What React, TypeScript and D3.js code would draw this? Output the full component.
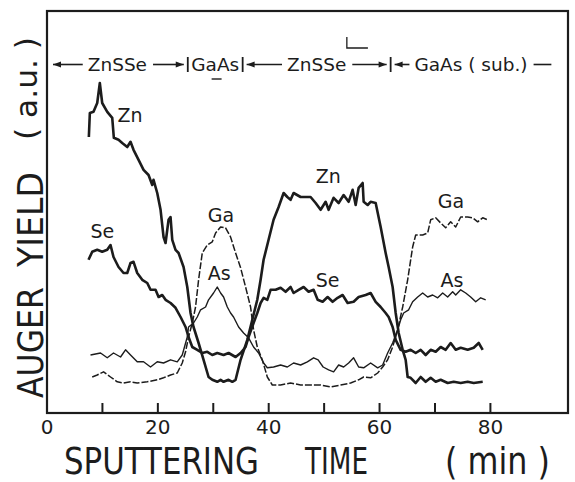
import React, { useEffect, useRef } from 'react';
import * as d3 from 'd3';

type Pt = [number, number];

// sputtering time (min), Auger yield (a.u.)
const zn: Pt[] = [
  [7.55, 69], [7.73, 75], [8.39, 75.3], [9.06, 77.5], [9.53, 82.5], [9.96, 77.5], [10.87, 75.3], [11.77, 73.8],
  [12.06, 68.8], [12.91, 68.3], [13.57, 67.5], [14.48, 66.5], [15.07, 67.8], [15.61, 65.8], [16.52, 63.3],
  [17.42, 60.8], [18.32, 59.5], [18.99, 57], [19.22, 58.3], [19.89, 55], [20.49, 50.8], [21.03, 44], [21.39, 42.5],
  [21.93, 48.3], [22.29, 49], [22.6, 43.3], [23.19, 40.8], [23.74, 40], [24.64, 36.5], [25.31, 31.5], [25.9, 25],
  [26.44, 21.5], [27.35, 17.5], [28.25, 13.3], [29.15, 9], [29.82, 8.3], [30.72, 7.8], [31.32, 8.3], [31.86, 7.8],
  [32.76, 8.3], [33.43, 7.8], [34.03, 8.3], [34.33, 10], [34.93, 13.3], [36.14, 18.3], [37.04, 23.3], [37.94, 28.3],
  [38.54, 33.3], [39.08, 38.3], [39.98, 43.3], [40.88, 48.3], [41.79, 51.5], [42.69, 55], [43.36, 54], [43.95, 53.3],
  [44.49, 55], [45.76, 54], [46.97, 54], [47.56, 54], [48.47, 52.5], [49.37, 50.8], [50.27, 52.8], [50.81, 50.8],
  [51.71, 53.8], [52.62, 52.5], [53.52, 54.5], [54.42, 52.8], [55.14, 55.8], [55.69, 52], [56.23, 56.3], [56.95, 57.5],
  [57.13, 52.8], [57.85, 52], [58.39, 52.8], [59.3, 52.5], [60.2, 46.5], [61.1, 40], [61.64, 36.5], [62.36, 31.5],
  [62.91, 25], [63.45, 20], [64.17, 15.8], [64.71, 13.3], [65.07, 9], [65.61, 8.8], [66.52, 7.5], [67.42, 9],
  [68.32, 7.8], [69.22, 8.8], [70.13, 7.8], [71.03, 8.3], [72.29, 7.5], [73.38, 7.8], [74.64, 7.5], [75.9, 7.8],
  [76.99, 7.5], [78.61, 7.8],
];

const se: Pt[] = [
  [7.49, 38.3], [8.16, 40.3], [9.06, 40.8], [9.96, 40.3], [10.87, 40.8], [11.46, 42], [12.0, 39], [12.91, 36.5],
  [13.81, 35], [14.48, 35], [15.07, 37.5], [15.61, 37.8], [16.28, 35], [17.18, 33.3], [18.09, 32.5], [18.68, 30.8],
  [19.58, 30.8], [20.13, 29], [20.79, 29.5], [21.39, 28.3], [22.29, 27.5], [23.19, 26.3], [24.1, 24], [25.0, 21.5],
  [25.54, 19], [26.21, 16.5], [27.11, 15.8], [28.01, 15], [28.92, 15.3], [29.82, 14.5], [30.72, 15], [31.86, 14.5],
  [32.76, 15], [34.03, 14], [34.93, 15], [35.83, 16.5], [36.37, 19], [37.27, 22.5], [37.94, 25], [38.54, 27.5],
  [39.08, 28.8], [39.75, 28.3], [40.34, 30.8], [41.25, 30.8], [42.15, 31.3], [43.05, 30.3], [43.95, 31.5], [44.49, 30],
  [45.4, 30.8], [46.3, 31.5], [47.2, 30.3], [48.1, 30.8], [48.83, 28.3], [49.73, 27.8], [50.63, 29], [51.53, 27.8],
  [52.44, 28.8], [53.34, 29.5], [54.24, 27.5], [55.32, 27.8], [56.23, 29], [57.49, 29.5], [58.39, 30], [59.3, 27.8],
  [60.2, 26.5], [61.1, 25], [61.64, 24], [62.36, 21.5], [62.91, 18.3], [63.81, 15.8], [64.71, 15.3], [65.61, 15.8],
  [66.52, 15], [67.42, 15.8], [68.32, 14.5], [69.22, 15.8], [70.13, 15.3], [71.03, 16.5], [71.93, 15.8], [72.83, 17.5],
  [73.74, 15.8], [74.64, 16.3], [75.9, 15.8], [76.99, 16.3], [77.89, 17.5], [78.61, 15.8],
];

const ga: Pt[] = [
  [8.16, 9], [9.06, 9.5], [10.2, 10.3], [11.46, 9], [12.67, 7.8], [13.81, 7.5], [15.07, 7.8], [16.28, 7.5],
  [18.09, 7.8], [19.89, 8.3], [21.03, 8.8], [22.29, 9.5], [23.5, 10], [24.4, 12.5], [25.0, 15.3], [25.54, 19],
  [26.21, 22.5], [26.8, 26.5], [27.35, 33.3], [28.01, 40], [28.92, 42], [29.82, 42.8], [30.42, 45], [31.32, 46.5],
  [32.22, 46.3], [33.12, 44], [34.03, 40], [34.93, 36.3], [35.83, 31.5], [36.73, 26.5], [37.27, 20.8], [37.94, 16.5],
  [38.84, 13.3], [39.75, 9], [40.65, 7], [42.15, 7], [43.95, 7.5], [45.76, 7], [47.56, 7], [49.37, 7], [51.17, 6.5],
  [52.98, 7], [54.78, 7.5], [56.23, 8.3], [57.13, 9], [58.39, 8.8], [59.66, 10], [60.56, 11.5], [61.46, 13.3],
  [62.36, 16.5], [63.27, 20.8], [64.17, 26.5], [65.07, 33.3], [65.97, 41.5], [66.52, 44.5], [67.78, 44.5],
  [68.68, 45], [69.22, 48.3], [70.13, 48.8], [71.03, 47.5], [71.93, 46.3], [72.83, 47.8], [73.74, 46.5], [74.64, 49],
  [75.9, 49], [76.81, 48.8], [77.71, 47.8], [78.61, 48.8], [79.51, 48.3],
];

const arsenic: Pt[] = [
  [7.85, 14.5], [9.66, 15], [10.87, 13.8], [12.0, 15], [13.27, 14], [14.17, 15.8], [15.07, 14.5], [16.28, 12.8],
  [17.42, 12.8], [18.68, 11.5], [19.89, 12.8], [21.03, 12.5], [22.29, 13.3], [23.5, 12.8], [24.4, 14.5], [25.31, 19],
  [25.54, 21.5], [26.44, 22.5], [27.11, 24], [27.71, 25.8], [28.61, 26.5], [29.15, 28.3], [30.05, 30], [30.72, 31.5],
  [31.32, 30], [31.86, 29], [32.53, 26.5], [33.12, 25], [33.66, 24], [34.57, 21.5], [35.47, 20], [36.37, 18.8],
  [37.27, 16.5], [38.18, 15], [39.08, 12.5], [39.75, 11.3], [40.88, 11.5], [42.15, 12], [43.36, 11.5], [44.49, 12.5],
  [45.76, 12], [46.97, 12.8], [48.1, 13.8], [48.92, 13.3], [49.82, 11.5], [50.81, 10.8], [51.71, 10.3], [52.62, 12],
  [53.52, 11.5], [54.42, 12.5], [55.32, 13.8], [56.23, 11.5], [57.13, 11.3], [58.39, 12.5], [59.66, 11.3], [60.56, 12],
  [61.46, 15], [62.36, 17.5], [63.27, 20.8], [63.81, 23.3], [64.35, 25], [65.25, 25.8], [65.97, 27.8], [66.88, 29],
  [67.78, 30], [68.68, 29], [69.58, 29.5], [70.49, 28.8], [71.39, 30], [72.29, 29], [73.19, 30.3], [73.74, 29.5],
  [74.64, 30.8], [75.54, 30], [76.44, 29], [77.35, 27.8], [78.25, 28.8], [79.15, 28.3],
];

const xTicks = [10, 20, 30, 40, 50, 60, 70, 80];
const xTickLabels = [0, 20, 40, 60, 80];

// layer structure written across the top
const layers = [
  { name: 'ZnSSe', from: 0, to: 25.4, arrows: true },
  { name: 'GaAs', from: 25.4, to: 35.3, arrows: false },
  { name: 'ZnSSe', from: 35.3, to: 62.0, arrows: true },
  { name: 'GaAs ( sub.)', from: 62.0, to: 91, arrows: true },
];

const curveLabels = [
  { text: 'Zn', t: 12.7, v: 72.8 },
  { text: 'Se', t: 7.85, v: 43.8 },
  { text: 'Ga', t: 29.0, v: 47.8 },
  { text: 'As', t: 29.0, v: 33.3 },
  { text: 'Zn', t: 48.5, v: 57.5 },
  { text: 'Se', t: 48.5, v: 31.5 },
  { text: 'Ga', t: 70.5, v: 51.3 },
  { text: 'As', t: 71.0, v: 31.5 },
];

const series = [
  { name: 'Zn', data: zn, width: 2.6, dash: null },
  { name: 'Se', data: se, width: 2.6, dash: null },
  { name: 'Ga', data: ga, width: 1.5, dash: '7,2' },
  { name: 'As', data: arsenic, width: 1.4, dash: null },
];

const INK = '#1c1c1c';
const FONT = '"DejaVu Sans", sans-serif';

const AugerProfile = () => {
  const svgRef = useRef<SVGSVGElement>(null);

  useEffect(() => {
    const svg = d3.select(svgRef.current);
    svg.selectAll('*').remove();

    const x = d3.scaleLinear().domain([0, 94]).range([47, 568]);
    const y = d3.scaleLinear().domain([0, 100.5]).range([413, 11]);

    svg.append('rect').attr('width', 575).attr('height', 482).attr('fill', '#fff');

    // frame
    svg
      .append('rect')
      .attr('x', x(0))
      .attr('y', y(100.5))
      .attr('width', x(94) - x(0))
      .attr('height', y(0) - y(100.5))
      .attr('fill', 'none')
      .attr('stroke', INK)
      .attr('stroke-width', 2.2);

    // inward ticks
    svg
      .selectAll('line.tick')
      .data(xTicks)
      .join('line')
      .attr('class', 'tick')
      .attr('x1', (d) => x(d))
      .attr('x2', (d) => x(d))
      .attr('y1', y(0))
      .attr('y2', y(0) - 10)
      .attr('stroke', INK)
      .attr('stroke-width', 2);

    svg
      .selectAll('text.tl')
      .data(xTickLabels)
      .join('text')
      .attr('class', 'tl')
      .attr('x', (d) => x(d))
      .attr('y', 434)
      .attr('text-anchor', 'middle')
      .attr('font-family', FONT)
      .attr('font-size', 20)
      .attr('fill', INK)
      .text((d) => d);

    // condensed lettering: draw at natural size, then squeeze horizontally
    const squeezed = (g: any, s: string, fs: number, w: number, place: (sx: number) => string) => {
      const t = g.append('text').attr('font-size', fs).text(s);
      const natural = (t.node() as SVGTextElement).getComputedTextLength();
      t.attr('transform', place(w / natural));
    };

    // axis titles
    const xt = svg.append('g').attr('font-family', FONT).attr('fill', INK);
    [
      { s: 'SPUTTERING', x0: 64, w: 195 },
      { s: 'TIME', x0: 305, w: 63 },
      { s: '( min )', x0: 445, w: 105 },
    ].forEach((p) => {
      squeezed(xt, p.s, 38, p.w, (sx) => `translate(${p.x0},474) scale(${sx},1)`);
    });

    const yt = svg.append('g').attr('font-family', FONT).attr('fill', INK);
    [
      { s: 'AUGER', y0: 398, w: 111, fs: 36, bx: 43 },
      { s: 'YIELD', y0: 267, w: 95, fs: 36, bx: 43 },
      { s: '( a.u. )', y0: 140, w: 103, fs: 30, bx: 37 },
    ].forEach((p) => {
      squeezed(yt, p.s, p.fs, p.w, (sx) => `translate(${p.bx},${p.y0}) rotate(-90) scale(${sx},1)`);
    });

    // curves
    const line = d3
      .line<Pt>()
      .x((d) => x(d[0]))
      .y((d) => y(d[1]));

    svg
      .append('g')
      .selectAll('path')
      .data(series)
      .join('path')
      .attr('d', (d) => line(d.data))
      .attr('fill', 'none')
      .attr('stroke', INK)
      .attr('stroke-width', (d) => d.width)
      .attr('stroke-linejoin', 'round')
      .attr('stroke-dasharray', (d) => d.dash);

    svg
      .append('g')
      .selectAll('text')
      .data(curveLabels)
      .join('text')
      .attr('x', (d) => x(d.t))
      .attr('y', (d) => y(d.v))
      .attr('font-family', FONT)
      .attr('font-size', 19)
      .attr('fill', INK)
      .text((d) => d.text);

    // layer annotation row
    const ann = svg.append('g').attr('font-family', FONT).attr('font-size', 18.5).attr('fill', INK);
    const base = y(85.5);
    const mid = base - 6.5;
    const arrow = (from: number, to: number, head: boolean) => {
      ann.append('line')
        .attr('x1', from).attr('x2', to).attr('y1', mid).attr('y2', mid)
        .attr('stroke', INK).attr('stroke-width', 1.6);
      if (head) {
        const dir = Math.sign(to - from);
        ann.append('path')
          .attr('d', `M${to},${mid} L${to - dir * 8},${mid - 3} L${to - dir * 8},${mid + 3} Z`)
          .attr('fill', INK);
      }
    };

    layers.forEach((L, i) => {
      const x0 = x(L.from);
      const x1 = x(L.to);
      const cx = (x0 + x1) / 2;
      const t = ann.append('text').attr('x', cx).attr('y', base).attr('text-anchor', 'middle').text(L.name);
      const w = (t.node() as SVGTextElement).getComputedTextLength();
      if (L.arrows) {
        arrow(cx - w / 2 - 5, x0 + (i === 0 ? 6 : 4), true);
        const last = i === layers.length - 1;
        arrow(cx + w / 2 + 6, x1 - (last ? 0 : 4), !last);
      }
      if (i < layers.length - 1) {
        ann.append('line')
          .attr('x1', x1).attr('x2', x1)
          .attr('y1', base - 14).attr('y2', base + 1)
          .attr('stroke', INK).attr('stroke-width', 1.8);
      }
    });

    // small marks on the original
    ann.append('line')
      .attr('x1', x(29.7)).attr('x2', x(31.5)).attr('y1', y(83.5)).attr('y2', y(83.5))
      .attr('stroke', INK).attr('stroke-width', 1.4);
    ann.append('path')
      .attr('d', `M${x(54.1)},${y(94)} L${x(54.1)},${y(91.25)} L${x(57.9)},${y(91.25)}`)
      .attr('fill', 'none').attr('stroke', INK).attr('stroke-width', 1.3);
  }, []);

  return (
    <svg
      ref={svgRef}
      width={575}
      height={482}
      style={{ position: 'absolute', left: 0, top: 0, display: 'block' }}
    />
  );
};

export default function App() {
  return <AugerProfile />;
}
